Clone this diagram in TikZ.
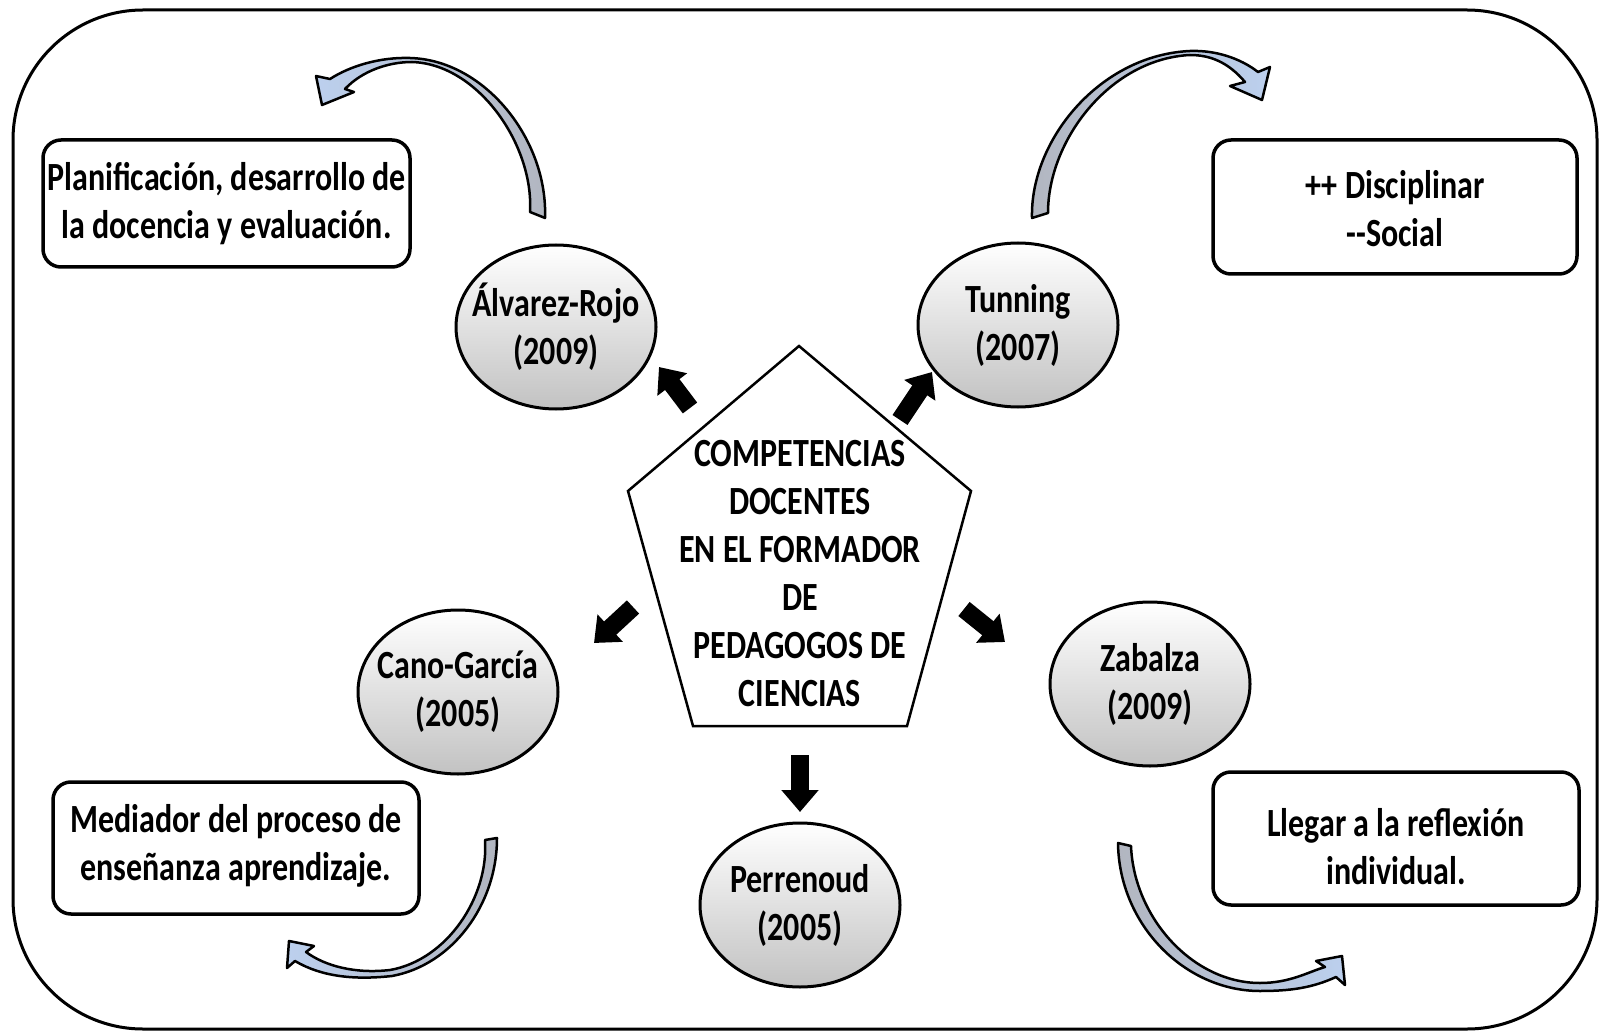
\documentclass[tikz,border=0pt]{standalone}
\usepackage{fontspec}
\setmainfont{Carlito}[FakeStretch=0.8]
\usetikzlibrary{shapes.geometric,arrows.meta}

\definecolor{ellgray}{HTML}{C2C2C2}
\definecolor{arrblue}{HTML}{BCD0EE}
\definecolor{arrgray}{HTML}{B2B6C0}

\tikzset{
  txt/.style={font=\bfseries\fontsize{40}{48}\selectfont, align=center},
  card/.style={draw, line width=3.5pt, rounded corners=18pt, inner sep=0pt},
  author/.style={ellipse, draw, line width=3pt, inner sep=0pt,
    minimum width=200pt, minimum height=164pt, top color=white, bottom color=ellgray},
  push/.style={line width=18pt, -{Triangle[length=22pt,width=36pt]}},
  curvearrow/.style={draw, line width=2.5pt, line join=round},
}

\begin{document}
\begin{tikzpicture}[x=1pt,y=-1pt]
\useasboundingbox (0,0) rectangle (1601,1032);
\fill[white] (0,0) rectangle (1601,1032);

% outer frame
\draw[line width=3pt, rounded corners=130pt] (13,10) rectangle (1597,1029);

% text cards
\node[card, minimum width=367pt, minimum height=127pt,
  label={[txt]center:{Planificación, desarrollo de\\la docencia y evaluación.}}]
  (plan) at (226.5,203.5) {};
\node[card, minimum width=364pt, minimum height=134pt,
  label={[txt, yshift=-2pt]center:{++ Disciplinar\\\mbox{-}\mbox{-}Social}}]
  (disc) at (1395,207) {};
\node[card, minimum width=366pt, minimum height=132pt,
  label={[txt, yshift=2pt]center:{Mediador del proceso de\\enseñanza aprendizaje.}}]
  (medi) at (236,848) {};
\node[card, minimum width=366pt, minimum height=133pt,
  label={[txt, yshift=-8pt]center:{Llegar a la reflexión\\individual.}}]
  (refl) at (1396,838.5) {};

% authors
\node[author, label={[txt]center:{Álvarez-Rojo\\(2009)}}] (alv) at (556,327) {};
\node[author, label={[txt]center:{Tunning\\(2007)}}] (tun) at (1018,325) {};
\node[author, label={[txt]center:{Cano-García\\(2005)}}] (cano) at (458,692) {};
\node[author, label={[txt]center:{Zabalza\\(2009)}}] (zab) at (1150,684) {};
\node[author, label={[txt]center:{Perrenoud\\(2005)}}] (perr) at (800,905) {};

% central pentagon
\coordinate (pA) at (799,346);
\coordinate (pB) at (971,491);
\coordinate (pC) at (907,726);
\coordinate (pD) at (693,726);
\coordinate (pE) at (628,491);
\draw[line width=2.5pt, line join=miter] (pA) -- (pB) -- (pC) -- (pD) -- (pE) -- cycle;
\node[txt] (core) at (800,574)
  {COMPETENCIAS\\DOCENTES\\EN EL FORMADOR\\DE\\PEDAGOGOS DE\\CIENCIAS};

% block arrows from the centre
\coordinate (a1s) at (690,408);  \coordinate (a1e) at (659,367);
\coordinate (a2s) at (900,420);  \coordinate (a2e) at (932,372);
\coordinate (a3s) at (633,607);  \coordinate (a3e) at (594,643);
\coordinate (a4s) at (964,609);  \coordinate (a4e) at (1005,642);
\coordinate (a5s) at (800,755);  \coordinate (a5e) at (800,812);
\draw[push] (a1s) -- (a1e);
\draw[push] (a2s) -- (a2e);
\draw[push] (a3s) -- (a3e);
\draw[push] (a4s) -- (a4e);
\draw[push] (a5s) -- (a5e);

% curved arrows (tapering bands)
\path[curvearrow, left color=arrblue, right color=arrgray]
  (545,218) .. controls (548,140) and (485,60) .. (410,58)
  .. controls (380,57) and (350,66) .. (330,79)
  -- (316,76) -- (322,105) -- (354,92) -- (345,89)
  .. controls (362,71) and (388,62) .. (412,62)
  .. controls (478,64) and (534,145) .. (530,212) -- cycle;

\path[curvearrow, left color=arrgray, right color=arrblue]
  (1032,218) .. controls (1030,140) and (1100,55) .. (1190,51)
  .. controls (1215,50) and (1240,58) .. (1258,72)
  -- (1270,67) -- (1262,100) -- (1230,86) -- (1245,82)
  .. controls (1228,62) and (1210,55) .. (1190,55)
  .. controls (1110,59) and (1048,140) .. (1048,213) -- cycle;

\path[curvearrow, left color=arrblue, right color=arrgray]
  (497,838) .. controls (497,905) and (452,965) .. (392,976)
  .. controls (355,980) and (322,977) .. (295,961)
  -- (287,968) -- (289,941) -- (314,946) -- (306,952)
  .. controls (325,966) and (355,974) .. (390,970)
  .. controls (447,960) and (489,897) .. (485,840) -- cycle;

\path[curvearrow, left color=arrgray, right color=arrblue]
  (1131,846) .. controls (1134,918) and (1193,983) .. (1260,983)
  .. controls (1290,983) and (1308,972) .. (1325,967)
  -- (1316,961) -- (1342,956) -- (1345,985) -- (1336,977)
  .. controls (1312,988) and (1290,991) .. (1260,991)
  .. controls (1185,991) and (1119,925) .. (1118,843) -- cycle;
\end{tikzpicture}
\end{document}
